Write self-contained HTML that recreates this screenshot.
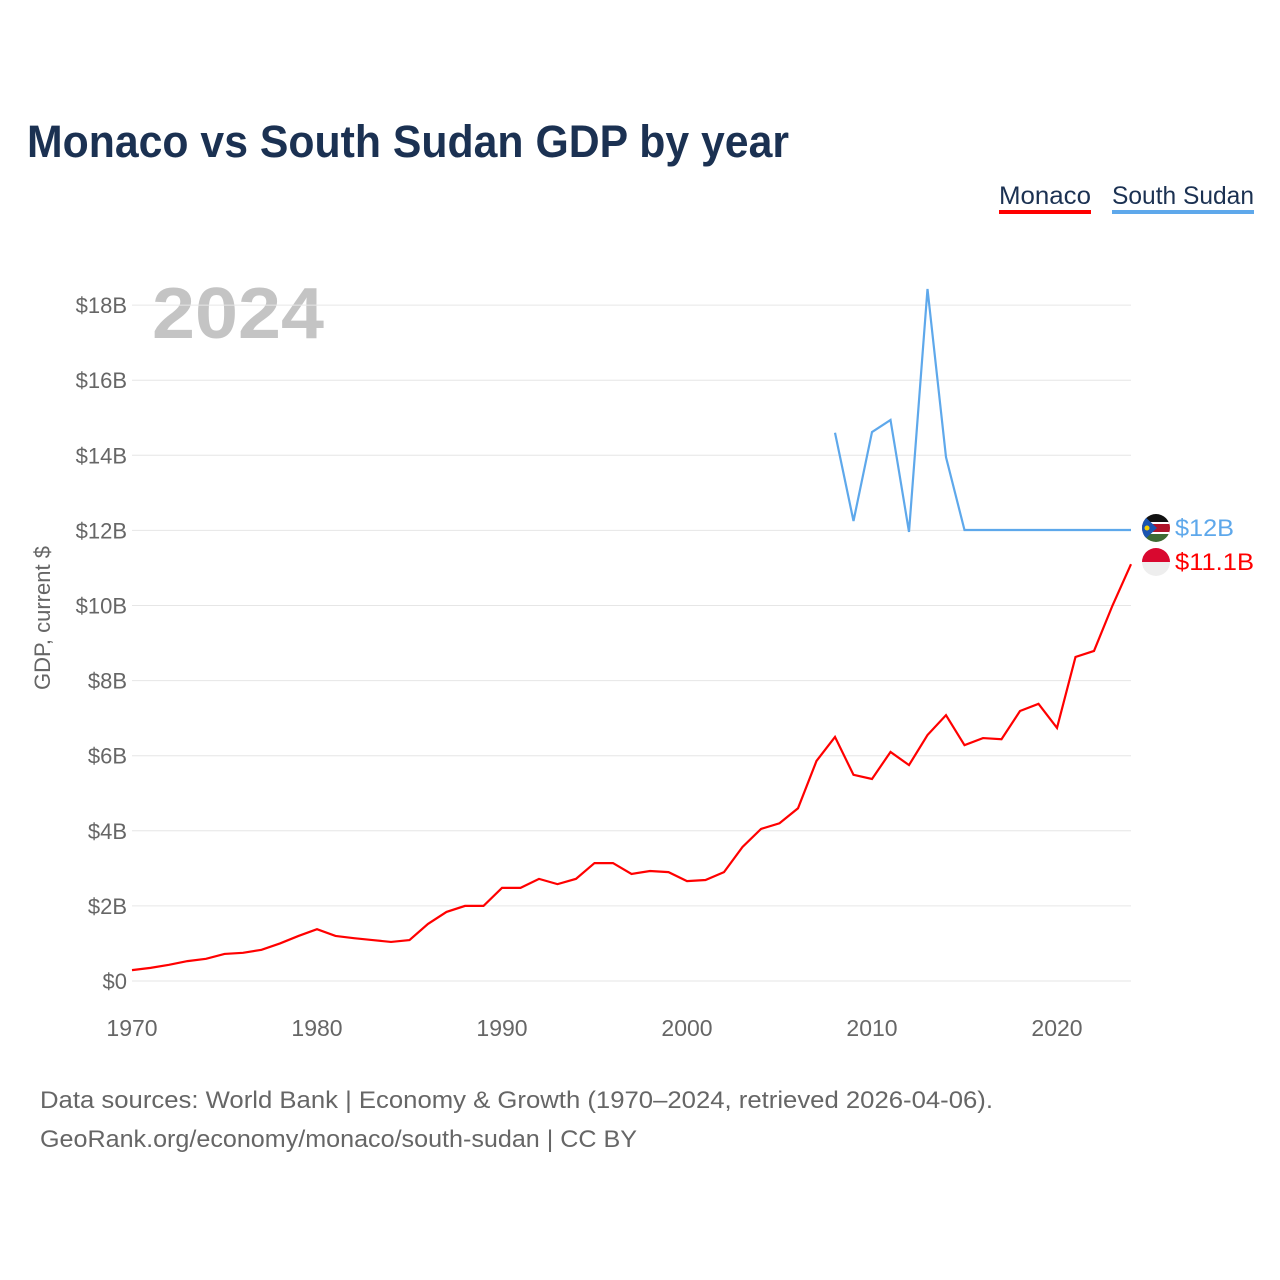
<!DOCTYPE html>
<html><head><meta charset="utf-8"><style>
body{margin:0;background:#fff;font-family:"Liberation Sans",sans-serif;}
#wrap{position:relative;width:1280px;height:1280px;overflow:hidden;}
</style></head><body>
<div id="wrap">
<svg id="chart" width="1280" height="1280">
<defs>
<clipPath id="c1"><circle cx="1156" cy="528" r="14"/></clipPath>
<clipPath id="c2"><circle cx="1156" cy="562" r="14"/></clipPath>
</defs>
<text x="27" y="157" font-size="45" font-weight="bold" fill="#1b3152" textLength="762" lengthAdjust="spacingAndGlyphs">Monaco vs South Sudan GDP by year</text>
<g><text x="999" y="204" font-size="25" fill="#1b3152" textLength="92" lengthAdjust="spacingAndGlyphs">Monaco</text><rect x="999" y="210" width="92" height="4" fill="#ff0000"/></g>
<g><text x="1112" y="204" font-size="25" fill="#1b3152" textLength="142" lengthAdjust="spacingAndGlyphs">South Sudan</text><rect x="1112" y="210" width="142" height="4" fill="#5ea8eb"/></g>
<text x="152" y="338" font-size="72" font-weight="bold" fill="#c4c4c4" textLength="172" lengthAdjust="spacingAndGlyphs">2024</text>
<g id="grid"></g><g id="yticks"></g><g id="xticks"></g>
<text transform="translate(50,618) rotate(-90)" text-anchor="middle" font-size="22" fill="#666">GDP, current $</text>
<g id="lines"></g>
<g clip-path="url(#c1)">
<rect x="1142" y="514" width="28" height="9" fill="#111"/><rect x="1142" y="523" width="28" height="10" fill="#b0142a"/><rect x="1142" y="522" width="28" height="2" fill="#fff"/><rect x="1142" y="532" width="28" height="2" fill="#fff"/><rect x="1142" y="534" width="28" height="9" fill="#3e6b33"/><polygon points="1142,514 1157,528 1142,542" fill="#1b55b0"/><circle cx="1147" cy="528" r="2.5" fill="#f5d000"/></g>
<g clip-path="url(#c2)"><rect x="1142" y="548" width="28" height="14" fill="#d9082f"/><rect x="1142" y="562" width="28" height="14" fill="#eee"/></g>
<text x="1175" y="536" font-size="24" fill="#5ea8eb" textLength="59" lengthAdjust="spacingAndGlyphs">$12B</text>
<text x="1175" y="570" font-size="24" fill="#ff0000" textLength="79" lengthAdjust="spacingAndGlyphs">$11.1B</text>
<text x="40" y="1108" font-size="24" fill="#666" textLength="953" lengthAdjust="spacingAndGlyphs">Data sources: World Bank | Economy &amp; Growth (1970–2024, retrieved 2026-04-06).</text>
<text x="40" y="1147" font-size="24" fill="#666" textLength="597" lengthAdjust="spacingAndGlyphs">GeoRank.org/economy/monaco/south-sudan | CC BY</text>
</svg></div>
<script>
const monacoYears=[];for(let y=1970;y<=2024;y++)monacoYears.push(y);
const monacoValues=[0.29,0.35,0.43,0.53,0.59,0.72,0.75,0.83,1.0,1.2,1.38,1.2,1.14,1.09,1.04,1.09,1.52,1.84,2.0,2.0,2.48,2.48,2.72,2.58,2.72,3.14,3.14,2.85,2.93,2.9,2.66,2.69,2.9,3.57,4.05,4.2,4.6,5.86,6.5,5.49,5.38,6.1,5.75,6.55,7.08,6.28,6.47,6.44,7.19,7.38,6.74,8.63,8.79,10.0,11.1];
const ssYears=[2008,2009,2010,2011,2012,2013,2014,2015,2016,2017,2018,2019,2020,2021,2022,2023,2024];
const ssValues=[14.6,12.25,14.62,14.94,11.96,18.43,13.95,12.01,12.01,12.01,12.01,12.01,12.01,12.01,12.01,12.01,12.01];
const yTicks=[0,2,4,6,8,10,12,14,16,18];
const yTickLabels=["$0","$2B","$4B","$6B","$8B","$10B","$12B","$14B","$16B","$18B"];
const xTicks=[1970,1980,1990,2000,2010,2020];
const X=y=>132+(y-1970)*18.5, Y=v=>981-v*37.55;
const NS="http://www.w3.org/2000/svg";
function mk(t,a,p){const e=document.createElementNS(NS,t);for(const k in a)e.setAttribute(k,a[k]);p.appendChild(e);return e;}
const g=document.getElementById('grid'),yt=document.getElementById('yticks'),xt=document.getElementById('xticks'),ln=document.getElementById('lines');
yTicks.forEach((v,i)=>{
 const l=mk('line',{x1:132,x2:1131,y1:Y(v),y2:Y(v),stroke:'#e6e6e6','stroke-width':1},g);
 
 
 const t=mk('text',{x:127,y:Y(v)+8,'text-anchor':'end','font-size':22,fill:'#666'},yt);
 t.textContent=yTickLabels[i];
 
 
});
xTicks.forEach(v=>{
 const t=mk('text',{x:X(v),y:1036,'text-anchor':'middle','font-size':23,fill:'#666'},xt);
 t.textContent=v;
 
 
});
const p1=mk('polyline',{points:monacoYears.map((y,i)=>X(y)+','+Y(monacoValues[i])).join(' '),fill:'none',stroke:'#ff0000','stroke-width':2.2},ln);


const p2=mk('polyline',{points:ssYears.map((y,i)=>X(y)+','+Y(ssValues[i])).join(' '),fill:'none',stroke:'#5ea8eb','stroke-width':2.2},ln);


</script>
</body></html>
